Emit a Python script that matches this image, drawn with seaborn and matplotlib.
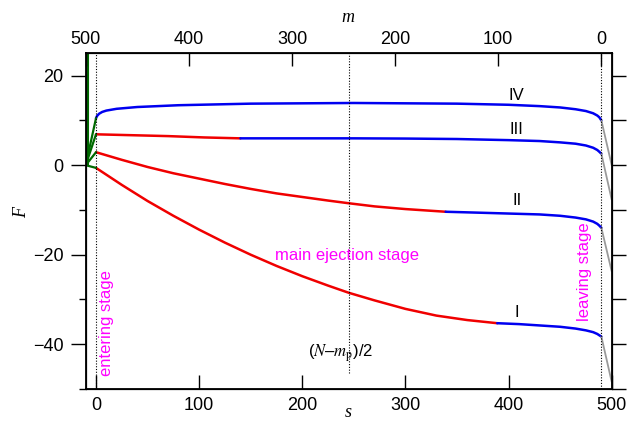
import numpy as np
import pandas as pd
import seaborn as sns
import matplotlib
matplotlib.use("Agg")
import matplotlib.pyplot as plt

sns.set_style("ticks")
plt.rcParams["font.family"] = ["Liberation Sans", "DejaVu Sans"]
plt.rcParams["mathtext.fontset"] = "stix"
for key in ["text.color", "axes.labelcolor", "xtick.color", "ytick.color", "axes.edgecolor"]:
    plt.rcParams[key] = "black"

# chain length, pore length
N_TOTAL = 500
M_PORE = 10
S_MAX = N_TOTAL - M_PORE  # 490

# ---- free-energy branches F(s) ----
# curve I
s_I_red = [0, 25, 50, 75, 100, 125, 150, 175, 200, 225, 245, 270, 300, 330, 360, 389]
F_I_red = [-0.6, -4.4, -8.0, -11.3, -14.4, -17.3, -20.0, -22.5, -24.8, -26.9, -28.5, -30.2, -32.1, -33.6, -34.6, -35.3]
s_I_blue = [389, 410, 430, 450, 465, 475, 482, 486, 488, 490]
F_I_blue = [-35.3, -35.5, -35.8, -36.1, -36.5, -36.9, -37.3, -37.7, -38.0, -38.3]

# curve II
s_II_red = [0, 25, 50, 75, 100, 125, 150, 175, 200, 225, 245, 270, 300, 339]
F_II_red = [2.9, 1.2, -0.4, -1.8, -3.0, -4.2, -5.3, -6.3, -7.1, -7.9, -8.5, -9.2, -9.8, -10.4]
s_II_blue = [339, 370, 400, 430, 450, 465, 475, 482, 486, 488, 490]
F_II_blue = [-10.4, -10.6, -10.8, -11.0, -11.3, -11.7, -12.1, -12.6, -13.1, -13.5, -14.0]

# curve III
s_III_red = [0, 35, 70, 105, 140]
F_III_red = [6.9, 6.7, 6.5, 6.2, 6.0]
s_III_blue = [140, 200, 250, 300, 350, 400, 430, 450, 465, 475, 482, 486, 488, 490]
F_III_blue = [6.0, 6.0, 6.0, 5.95, 5.85, 5.6, 5.4, 5.1, 4.8, 4.4, 3.9, 3.4, 3.0, 2.55]

# curve IV
s_IV = [0, 1, 3, 6, 10, 20, 40, 80, 150, 250, 350, 400, 430, 450, 465, 475, 482, 486, 488, 490]
F_IV = [10.5, 11.0, 11.5, 11.9, 12.2, 12.6, 13.0, 13.4, 13.75, 13.9, 13.75, 13.5, 13.2, 12.9, 12.5, 12.1, 11.6, 11.1, 10.7, 10.0]

# entering stage (s from -10 to 0) and leaving stage (s from 490 to 500)
enter_start = [0.0, 0.0, 0.0, 0.0]
enter_end = [F_I_red[0], F_II_red[0], F_III_red[0], F_IV[0]]
leave_start = [F_I_blue[-1], F_II_blue[-1], F_III_blue[-1], F_IV[-1]]
leave_end = [-48.4, -23.7, -7.7, 0.0]

branch_labels = ["I", "II", "III", "IV"]
label_pos_s = [408, 408, 408, 408]
label_pos_F = [-32.8, -7.9, 8.0, 15.6]

top_ticks = [500, 400, 300, 200, 100, 0]

RED = "#f00000"
BLUE = "#0000f0"
GREEN = "#006a00"
GRAY = "#9a9a9a"
MAGENTA = "#ff00ff"

fig = plt.figure(figsize=(6.32, 4.24), dpi=100)
ax = fig.add_axes([85.7 / 632, 1 - 389 / 424, (611.7 - 85.7) / 632, (389 - 53.3) / 424])

lw = 1.8
segments = [
    (s_I_red, F_I_red, RED), (s_I_blue, F_I_blue, BLUE),
    (s_II_red, F_II_red, RED), (s_II_blue, F_II_blue, BLUE),
    (s_III_red, F_III_red, RED), (s_III_blue, F_III_blue, BLUE),
    (s_IV, F_IV, BLUE),
]
for xs, ys, col in segments:
    sns.lineplot(x=xs, y=ys, color=col, lw=lw, sort=False, estimator=None, ax=ax)

# entering stage lines
s_left = S_MAX - N_TOTAL  # -10
ax.plot([s_left + 1.9, s_left + 1.9], [0, 30], color=GREEN, lw=1.5, zorder=3)
for f0, f1 in zip(enter_start, enter_end):
    ax.plot([s_left, 0], [f0, f1], color=GREEN, lw=1.6)

# leaving stage lines
for f0, f1 in zip(leave_start, leave_end):
    ax.plot([S_MAX, N_TOTAL], [f0, f1], color=GRAY, lw=1.3)

# stage boundaries
ax.axvline(0, color="black", lw=0.8, ls=(0, (1, 1.5)))
ax.axvline(S_MAX, color="black", lw=0.8, ls=(0, (1, 1.5)))
ax.plot([S_MAX / 2, S_MAX / 2], [-46.5, 25], color="black", lw=0.8, ls=(0, (1, 1.5)))

for lab, xs, ys in zip(branch_labels, label_pos_s, label_pos_F):
    ax.text(xs, ys, lab, fontsize=12, ha="center", va="center")

ax.text(243.5, -20.2, "main ejection stage", color=MAGENTA, fontsize=12, ha="center", va="center")
ax.text(10, -47, "entering stage", color=MAGENTA, fontsize=12, rotation=90, ha="center", va="bottom")
ax.text(473.5, -23.7, "leaving stage", color=MAGENTA, fontsize=12, rotation=90, ha="center", va="center")
ax.text(S_MAX / 2 - 8, -42.0, r"($N$–$m_{\mathrm{p}}$)/2", fontsize=12, ha="center", va="center")

ax.set_xlim(s_left, N_TOTAL)
ax.set_ylim(-50, 25)
ax.set_xticks([0, 100, 200, 300, 400, 500])
ax.set_yticks([-40, -20, 0, 20])
ax.set_yticks([-50, -30, -10, 10], minor=True)
ax.tick_params(axis="x", direction="in", length=10, width=1, labelsize=13, pad=6, top=False)
ax.tick_params(axis="y", which="major", direction="out", length=11, width=1, labelsize=13, pad=5)
ax.tick_params(axis="y", which="minor", direction="out", length=5, width=1)
ax.set_xlabel("")
ax.set_ylabel("")
for sp in ax.spines.values():
    sp.set_visible(True)
    sp.set_linewidth(1.3)

# right-hand ticks every 10, no labels
axr = ax.twinx()
axr.set_ylim(-50, 25)
axr.set_yticks(np.arange(-50, 30, 10))
axr.tick_params(axis="y", direction="out", length=10, width=1, labelright=False)

# top axis: monomers still to leave, m = (N - m_p) - s
axt = ax.twiny()
axt.set_xlim(S_MAX - s_left, S_MAX - N_TOTAL)
axt.set_xticks(top_ticks)
axt.tick_params(axis="x", direction="in", length=9, width=1, labelsize=13, pad=4)

fig.text(348 / 632, 1 - 17 / 424, "m", fontsize=13, family="Liberation Serif", style="italic", ha="center", va="center")
fig.text(22 / 632, 1 - 213 / 424, "F", fontsize=13, family="Liberation Serif", style="italic", ha="center", va="center", rotation=90)
fig.text(348 / 632, 1 - 421 / 424, "s", fontsize=13, family="Liberation Serif", style="italic", ha="center", va="bottom")

fig.savefig("out.png", dpi=100)
